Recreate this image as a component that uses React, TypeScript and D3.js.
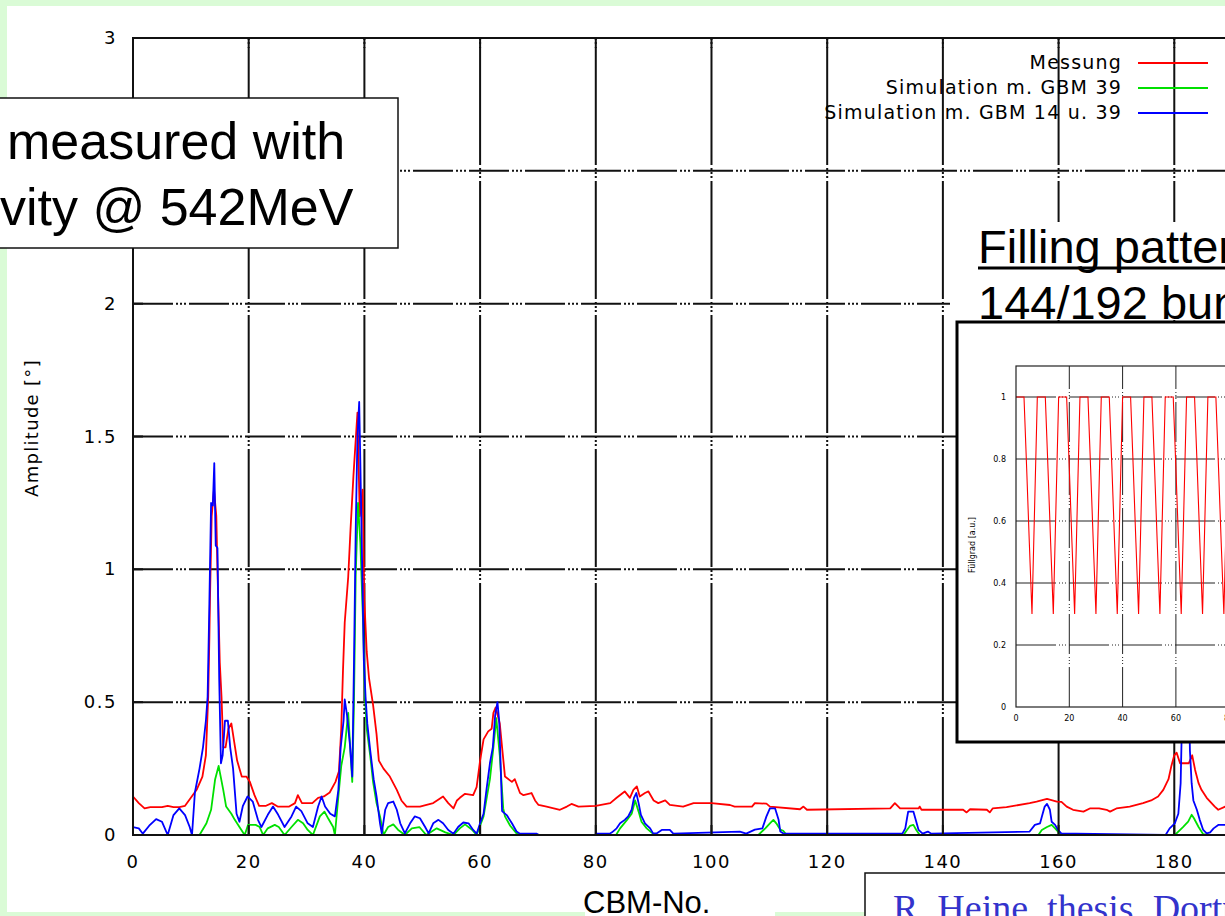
import React, { useEffect } from 'react';
import * as d3 from 'd3';

// main plot: CBM number vs. amplitude
const cbmTicks = [0, 20, 40, 60, 80, 100, 120, 140, 160, 180];
const ampTicks = [0, 0.5, 1, 1.5, 2, 2.5, 3];
const legendLabels = ['Messung', 'Simulation m. GBM 39', 'Simulation m. GBM 14 u. 39'];
const legendColors = ['#ff0000', '#00e000', '#0000ff'];

// [CBM-No., amplitude]
const messung: [number, number][] = [
  [0, 0.145], [1, 0.12], [2, 0.1], [3, 0.105], [5, 0.105], [6, 0.11], [7, 0.105], [8, 0.105], [9, 0.11],
  [10, 0.14], [11, 0.17], [12, 0.22], [12.6, 0.3], [13, 0.52], [13.2, 0.74], [13.3, 0.88], [13.6, 1.2],
  [14, 1.3], [14.4, 1.2], [14.6, 1.0], [15, 0.65], [15.3, 0.52], [15.6, 0.33], [16, 0.33], [16.5, 0.4],
  [17, 0.42], [17.5, 0.35], [18, 0.28], [18.8, 0.22], [19.6, 0.22], [20.2, 0.2], [21, 0.15], [21.8, 0.11],
  [23, 0.11], [24, 0.12], [25, 0.107], [27, 0.107], [28, 0.12], [28.5, 0.15], [29.2, 0.12], [31, 0.12],
  [32, 0.14], [33, 0.145], [34, 0.16], [35, 0.2], [35.6, 0.24], [36, 0.4], [36.3, 0.62], [36.6, 0.8],
  [37.2, 0.97], [37.6, 1.15], [38.1, 1.35], [38.8, 1.59], [39.2, 1.2], [39.7, 1.3], [40, 0.88], [40.4, 0.69],
  [40.8, 0.59], [41.5, 0.49], [42.1, 0.38], [42.5, 0.28], [43.3, 0.25], [44.4, 0.22], [45.6, 0.17],
  [46.4, 0.13], [47.3, 0.107], [49.6, 0.107], [51.9, 0.12], [53.6, 0.145], [54.5, 0.12], [55.4, 0.1],
  [56, 0.13], [56.5, 0.14], [57.4, 0.155], [58.8, 0.15], [59.4, 0.18], [60, 0.28], [60.6, 0.36],
  [61.4, 0.39], [62, 0.4], [62.3, 0.46], [62.7, 0.48], [63.4, 0.42], [63.8, 0.33], [64.3, 0.22],
  [65.5, 0.2], [66, 0.21], [66.9, 0.158], [67.5, 0.15], [68.9, 0.158], [69.5, 0.13], [70.1, 0.113],
  [71.5, 0.107], [73.8, 0.095], [75, 0.107], [75.8, 0.117], [77, 0.107], [80, 0.11], [82.5, 0.12],
  [83.6, 0.14], [85, 0.164], [85.9, 0.14], [86.5, 0.17], [87.1, 0.183], [87.6, 0.145], [88.5, 0.158],
  [89.1, 0.164], [90, 0.13], [90.8, 0.12], [92, 0.13], [92.8, 0.113], [95.1, 0.107], [96.9, 0.12],
  [100, 0.12], [103.2, 0.113], [104, 0.107], [107, 0.107], [107.5, 0.12], [109.5, 0.118], [110.1, 0.107],
  [115.3, 0.097], [115.9, 0.107], [116.5, 0.095], [130.9, 0.1], [131.7, 0.12], [132.6, 0.1], [135.8, 0.1],
  [136, 0.107], [136.3, 0.095], [143.5, 0.095], [144.1, 0.085], [144.7, 0.097], [147.6, 0.095],
  [148.1, 0.085], [148.6, 0.1], [151, 0.105], [155, 0.12], [156.2, 0.126], [158, 0.136], [159.7, 0.126],
  [160.5, 0.125], [161.4, 0.107], [162.5, 0.095], [164.3, 0.088], [165.4, 0.1], [167, 0.1], [168.3, 0.095],
  [168.9, 0.088], [170, 0.1], [172.3, 0.107], [174.6, 0.12], [176, 0.13], [177.2, 0.145], [178.1, 0.17],
  [179, 0.21], [179.5, 0.26], [180, 0.3], [180.4, 0.31], [181, 0.27], [182.5, 0.27], [183.1, 0.3],
  [183.6, 0.245], [184.2, 0.195], [184.7, 0.17], [185.6, 0.14], [187, 0.107], [187.6, 0.095],
  [188.8, 0.107], [191, 0.11],
];

const simGbm39: [number, number][] = [
  [0, 0], [11.5, 0], [12.7, 0.044], [13.5, 0.095], [14.2, 0.21], [14.8, 0.26], [15.6, 0.17], [16.1, 0.107],
  [17, 0.08], [17.6, 0.057], [18.4, 0.03], [19.3, 0], [19.9, 0.038], [21.2, 0.038], [21.9, 0.03], [22.5, 0],
  [23.3, 0.025], [24.5, 0.038], [25.2, 0.03], [26.2, 0], [27.4, 0.03], [28.5, 0.057], [29.4, 0.044],
  [30.2, 0.019], [31.1, 0], [32.3, 0.07], [33.1, 0.088], [33.8, 0.06], [34.6, 0.03], [34.9, 0],
  [35.5, 0.145], [36, 0.26], [36.6, 0.33], [37.2, 0.46], [37.6, 0.31], [37.9, 0.2], [38.2, 0.5],
  [38.5, 0.98], [38.9, 1.25], [39.3, 1.1], [39.8, 0.78], [40.1, 0.52], [40.4, 0.4], [41, 0.3], [41.5, 0.2],
  [42.1, 0.12], [42.7, 0.07], [43.3, 0], [44.1, 0.03], [45, 0.04], [45.8, 0.02], [47, 0], [48.2, 0.025],
  [49.5, 0.03], [50.7, 0], [52.5, 0.025], [54, 0.01], [55.4, 0], [56.5, 0.025], [57.4, 0.04], [58.6, 0.02],
  [59.4, 0], [60.6, 0.07], [61.7, 0.21], [62.3, 0.33], [62.8, 0.44], [63.4, 0.3], [64, 0.1], [64.3, 0.07],
  [65.2, 0.035], [66.3, 0.006], [67, 0], [83.5, 0], [84.2, 0.025], [85.4, 0.057], [86.2, 0.08],
  [86.8, 0.13], [87.4, 0.088], [87.9, 0.05], [88.8, 0.025], [89.6, 0.01], [90.2, 0], [108.1, 0],
  [109.3, 0.025], [110.1, 0.044], [110.7, 0.057], [111.2, 0.044], [111.9, 0.02], [112.4, 0.016], [113, 0],
  [133.2, 0], [133.7, 0.016], [134.3, 0.034], [134.9, 0.038], [135.4, 0.019], [136, 0], [156.5, 0],
  [157.1, 0.019], [158, 0.03], [158.8, 0.038], [159.4, 0.025], [159.9, 0.013], [160.5, 0], [180.1, 0],
  [180.7, 0.013], [181.5, 0.03], [182.4, 0.05], [183, 0.076], [183.4, 0.063], [184.2, 0.03], [185, 0.003],
  [186, 0], [191, 0],
];

const simGbm1439: [number, number][] = [
  [0, 0.03], [1, 0.025], [1.7, 0.005], [2.8, 0.035], [4, 0.06], [5, 0.05], [6, 0], [7, 0.075], [8, 0.1],
  [9, 0.075], [9.8, 0.03], [10.2, 0], [10.7, 0.16], [11.5, 0.25], [12.1, 0.33], [12.6, 0.43], [12.9, 0.52],
  [13.2, 0.87], [13.5, 1.25], [13.8, 1.24], [14.05, 1.4], [14.3, 1.09], [14.6, 1.08], [14.9, 0.59],
  [15.2, 0.27], [15.5, 0.3], [15.9, 0.43], [16.4, 0.43], [16.8, 0.33], [17.3, 0.25], [17.9, 0.08],
  [18.4, 0.05], [19, 0.11], [19.8, 0.145], [20.7, 0.126], [21.6, 0.057], [22.2, 0.03], [23.3, 0.076],
  [24.2, 0.107], [25.1, 0.076], [26.2, 0.03], [27.4, 0.07], [28.2, 0.107], [29.1, 0.09], [30.2, 0.044],
  [31.1, 0.03], [32, 0.107], [32.6, 0.145], [33.2, 0.107], [34.1, 0.08], [34.9, 0.07], [35.5, 0.17],
  [35.9, 0.33], [36.4, 0.43], [36.6, 0.51], [37, 0.45], [37.5, 0.34], [37.9, 0.22], [38.2, 0.65],
  [38.5, 1.15], [38.8, 1.5], [39.1, 1.63], [39.3, 1.4], [39.6, 1.03], [39.9, 0.66], [40.2, 0.52],
  [40.5, 0.42], [41, 0.32], [41.6, 0.21], [42.1, 0.145], [42.7, 0.044], [43, 0.006], [43.6, 0.095],
  [44.1, 0.12], [45, 0.126], [45.6, 0.095], [46.2, 0.044], [47, 0.006], [47.9, 0.044], [48.7, 0.07],
  [49.6, 0.063], [50.5, 0.03], [51.1, 0.006], [51.9, 0.044], [52.8, 0.057], [53.6, 0.044], [54.5, 0.019],
  [55.4, 0.005], [56.2, 0.03], [57.1, 0.047], [58, 0.044], [58.8, 0.019], [59.4, 0.005], [60, 0.044],
  [60.6, 0.08], [61.1, 0.17], [61.7, 0.27], [62.2, 0.33], [62.6, 0.45], [63, 0.5], [63.3, 0.43],
  [63.5, 0.3], [63.8, 0.09], [64.6, 0.075], [65.5, 0.044], [66.3, 0.013], [66.9, 0.005], [69.8, 0.005],
  [70.2, 0], [79.8, 0], [80.1, 0.005], [82.4, 0.005], [82.8, 0.01], [83.6, 0.025], [84.2, 0.044],
  [85, 0.057], [85.6, 0.07], [86.2, 0.095], [86.6, 0.14], [87, 0.158], [87.4, 0.12], [87.8, 0.076],
  [88.5, 0.044], [89.4, 0.025], [89.9, 0.006], [90.5, 0.006], [91.4, 0.019], [92.8, 0.019], [93.4, 0.005],
  [104.9, 0.013], [106, 0.005], [107.5, 0.02], [108.8, 0.025], [109.5, 0.07], [110.1, 0.1], [111, 0.1],
  [111.6, 0.057], [111.9, 0.013], [112.5, 0.005], [133, 0.005], [133.5, 0.025], [133.8, 0.063],
  [134, 0.088], [134.9, 0.088], [135.4, 0.05], [135.8, 0.019], [136.5, 0.005], [137.4, 0.013], [138, 0.005],
  [155, 0.013], [155.9, 0.038], [156.8, 0.044], [157.2, 0.076], [157.6, 0.107], [158, 0.117],
  [158.5, 0.095], [158.8, 0.05], [159.4, 0.038], [159.9, 0.019], [160.5, 0.005], [163, 0.005], [178.5, 0],
  [179.2, 0.025], [180.1, 0.044], [180.7, 0.08], [181.1, 0.195], [181.5, 0.6], [182, 0.95], [182.3, 0.85],
  [182.7, 0.32], [183, 0.195], [183.3, 0.13], [183.9, 0.095], [184.4, 0.057], [185, 0.019], [185.6, 0.006],
  [186.2, 0.01], [186.8, 0.025], [187.6, 0.038], [188.8, 0.038], [190, 0.045], [191, 0.04],
];

// inset: filling pattern per bunch
const bunchTicks = [0, 20, 40, 60, 80];
const fillTicks = [0, 0.2, 0.4, 0.6, 0.8, 1];
const fillPattern = [
  1, 1, 1, 1, 0.77, 0.53, 0.3, 0.65,
  1, 1, 1, 1, 0.77, 0.53, 0.3, 0.65,
  1, 1, 1, 1, 0.77, 0.53, 0.3, 0.65,
  1, 1, 1, 1, 0.77, 0.53, 0.3, 0.65,
  1, 1, 1, 1, 0.77, 0.53, 0.3, 0.65,
  1, 1, 1, 1, 0.77, 0.53, 0.3, 0.65,
  1, 1, 1, 1, 0.77, 0.53, 0.3, 0.65,
  1, 1, 1, 1, 0.77, 0.53, 0.3, 0.65,
  1, 1, 1, 1, 0.77, 0.53, 0.3, 0.65,
  1, 1, 1, 1, 0.77, 0.53, 0.3, 0.65,
  1,
];

const gp = '"DejaVu Sans", sans-serif';
const arial = '"Liberation Sans", Arial, sans-serif';

function App() {
  useEffect(() => {
    document.body.style.margin = '0';
  }, []);

  const width = 1225;
  const height = 916;

  const x = d3.scaleLinear().domain([0, 192]).range([133, 1243.7]);
  const y = d3.scaleLinear().domain([0, 3]).range([835, 38]);
  const line = d3.line<[number, number]>().x(d => x(d[0])).y(d => y(d[1]));
  const series = [messung, simGbm39, simGbm1439];

  const xi = d3.scaleLinear().domain([0, 80]).range([1016, 1229.2]);
  const yi = d3.scaleLinear().domain([0, 1.1]).range([707, 366]);
  const fillLine = d3.line<number>().x((d, i) => xi(i)).y(d => yi(d));

  const hDash = '40,3,2,2,2,2,2,3';
  const vDash = '118,3,2,2,2,2,2,3';

  return (
    <svg width={width} height={height} style={{ display: 'block' }}>
      <defs>
        <clipPath id="plotClip">
          <rect x={x(0)} y={y(3)} width={x(192) - x(0)} height={y(0) - y(3)} />
        </clipPath>
        <clipPath id="insetClip">
          <rect x={xi(0)} y={yi(1.1)} width={300} height={yi(0) - yi(1.1)} />
        </clipPath>
      </defs>
      <rect width={width} height={height} fill="#dafbd6" />
      <rect x={7} y={6} width={width} height={906} fill="#ffffff" />

      {/* grid */}
      {cbmTicks.slice(1).map(t => (
        <line key={'gx' + t} x1={x(t)} x2={x(t)} y1={y(0)} y2={y(3)} stroke="#111" strokeWidth={2} strokeDasharray={vDash} />
      ))}
      {ampTicks.slice(1, -1).map(t => (
        <line key={'gy' + t} x1={x(0)} x2={x(192)} y1={y(t)} y2={y(t)} stroke="#111" strokeWidth={2} strokeDasharray={hDash} />
      ))}

      {/* data */}
      <g clipPath="url(#plotClip)">
        {series.map((s, i) => (
          <path key={i} d={line(s) || ''} fill="none" stroke={legendColors[i]} strokeWidth={1.8} strokeLinejoin="round" />
        ))}
      </g>

      {/* frame + ticks */}
      <rect x={x(0)} y={y(3)} width={x(192) - x(0)} height={y(0) - y(3)} fill="none" stroke="#111" strokeWidth={2} />
      {cbmTicks.map(t => (
        <g key={'tx' + t}>
          <line x1={x(t)} x2={x(t)} y1={y(0)} y2={y(0) - 10} stroke="#111" strokeWidth={2} />
          <line x1={x(t)} x2={x(t)} y1={y(3)} y2={y(3) + 10} stroke="#111" strokeWidth={2} />
          <text x={x(t)} y={y(0) + 33} textAnchor="middle" fontFamily={gp} fontSize={18} letterSpacing={1.5}>{t}</text>
        </g>
      ))}
      {ampTicks.map(t => (
        <g key={'ty' + t}>
          <line x1={x(0)} x2={x(0) + 10} y1={y(t)} y2={y(t)} stroke="#111" strokeWidth={2} />
          <text x={117} y={y(t) + 6} textAnchor="end" fontFamily={gp} fontSize={18} letterSpacing={1.5}>{t}</text>
        </g>
      ))}
      <text transform="translate(38,428) rotate(-90)" textAnchor="middle" fontFamily={gp} fontSize={18} letterSpacing={1.3}>Amplitude [°]</text>

      {/* legend */}
      {legendLabels.map((l, i) => (
        <g key={l}>
          <text x={1122} y={63 + i * 25 + 6} textAnchor="end" fontFamily={gp} fontSize={19} letterSpacing={1.2}>{l}</text>
          <line x1={1138} x2={1208} y1={63 + i * 25} y2={63 + i * 25} stroke={legendColors[i]} strokeWidth={1.8} />
        </g>
      ))}

      {/* annotation box */}
      <rect x={-2} y={98} width={400} height={150} fill="#fff" stroke="#111" strokeWidth={1.5} />
      <text x={7} y={159} fontFamily={arial} fontSize={52}>measured with</text>
      <text x={0} y={225} fontFamily={arial} fontSize={52}>vity @ 542MeV</text>

      {/* filling pattern title */}
      <rect x={950} y={222} width={280} height={98} fill="#fff" />
      <text x={978} y={263} fontFamily={arial} fontSize={47}>Filling pattern</text>
      <line x1={978} x2={1230} y1={268} y2={268} stroke="#000" strokeWidth={3} />
      <text x={978} y={319} fontFamily={arial} fontSize={47}>144/192 bunches</text>

      {/* inset */}
      <rect x={957} y={322} width={300} height={420} fill="#fff" stroke="#000" strokeWidth={3} />
      {bunchTicks.slice(1).map(t => (
        <line key={'ix' + t} x1={xi(t)} x2={xi(t)} y1={yi(0)} y2={yi(1.1)} stroke="#222" strokeWidth={1} strokeDasharray="40,3,1,2,1,2,1,3" />
      ))}
      {fillTicks.slice(1).map(t => (
        <line key={'iy' + t} x1={xi(0)} x2={xi(80)} y1={yi(t)} y2={yi(t)} stroke="#222" strokeWidth={1} strokeDasharray="40,3,1,2,1,2,1,3" />
      ))}
      <g clipPath="url(#insetClip)">
        <path d={fillLine(fillPattern) || ''} fill="none" stroke="#ff0000" strokeWidth={1.1} />
      </g>
      <rect x={xi(0)} y={yi(1.1)} width={300} height={yi(0) - yi(1.1)} fill="none" stroke="#222" strokeWidth={1.2} />
      {bunchTicks.map(t => (
        <text key={'ixl' + t} x={xi(t)} y={yi(0) + 14} textAnchor="middle" fontFamily={gp} fontSize={8}>{t}</text>
      ))}
      {fillTicks.map(t => (
        <text key={'iyl' + t} x={1006} y={yi(t) + 3} textAnchor="end" fontFamily={gp} fontSize={8}>{t}</text>
      ))}
      <text transform="translate(975,545) rotate(-90)" textAnchor="middle" fontFamily={gp} fontSize={8}>Füllgrad [a.u.]</text>

      {/* bottom labels */}
      <rect x={585} y={879} width={190} height={40} fill="#fff" />
      <text x={583} y={913} fontFamily={arial} fontSize={31}>CBM-No.</text>
      <rect x={865} y={873} width={400} height={60} fill="#fff" stroke="#111" strokeWidth={1.5} />
      <text x={893} y={921} fontFamily={'"Liberation Serif", "Times New Roman", serif'} fontSize={38} fill="#3333cc">R. Heine, thesis, Dortmund</text>
    </svg>
  );
}

export default App;
